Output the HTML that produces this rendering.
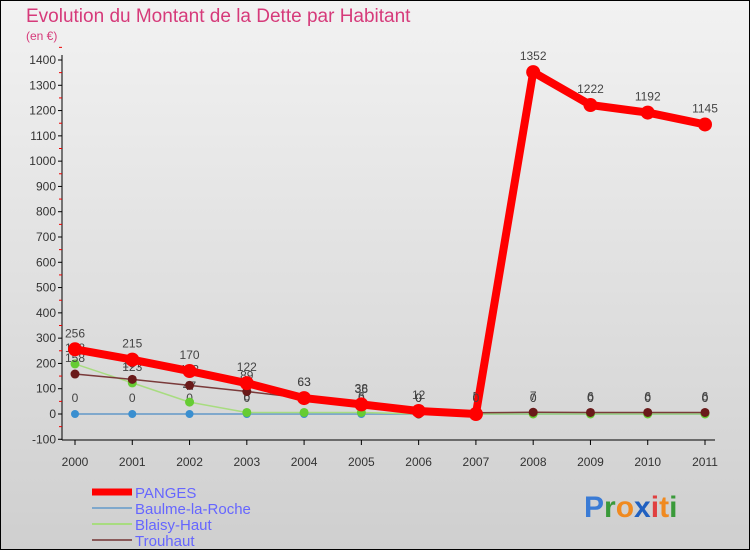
<!DOCTYPE html>
<html><head><meta charset="utf-8"><style>
body{margin:0;width:750px;height:550px;overflow:hidden;font-family:"Liberation Sans",sans-serif}
svg{display:block}
</style></head><body>
<svg id="c" width="750" height="550">
<defs><linearGradient id="bg" x1="0" y1="0" x2="0" y2="1"><stop offset="0" stop-color="#f2f2f2"/><stop offset="1" stop-color="#cfcfcf"/></linearGradient></defs>
<rect width="750" height="550" fill="url(#bg)"/>
<rect x="0.5" y="0.5" width="749" height="549" fill="none" stroke="#000" stroke-width="1"/>
<text x="26" y="22" font-size="19" fill="#d63a7a">Evolution du Montant de la Dette par Habitant</text>
<text x="26" y="40" font-size="12" fill="#d63a7a">(en €)</text>
<g id="axes"></g><g id="series"></g><g id="legend"></g>
<text x="584" y="517" font-size="30" font-weight="bold"><tspan fill="#3a7bd5">P</tspan><tspan fill="#3a9a3a">r</tspan><tspan fill="#f08a20">o</tspan><tspan fill="#2060c0">x</tspan><tspan fill="#e04040">i</tspan><tspan fill="#f08a20">t</tspan><tspan fill="#3a9a3a">i</tspan></text>
</svg>
<script>
const years=[2000,2001,2002,2003,2004,2005,2006,2007,2008,2009,2010,2011];
const yTicks=[-100,0,100,200,300,400,500,600,700,800,900,1000,1100,1200,1300,1400];
const panges=[256,215,170,122,63,38,12,0,1352,1222,1192,1145];
const baulme=[0,0,0,0,0,0,0,0,0,0,0,0];
const blaisy=[198,123,47,6,6,6,0,0,0,0,0,0];
const trouhaut=[158,137,113,89,63,36,0,5,7,6,6,6];
const NS="http://www.w3.org/2000/svg";
const X=i=>75+i*(630/11);
const Y=v=>414-v*(354/1400);
function mk(t,a,p){const e=document.createElementNS(NS,t);for(const k in a)e.setAttribute(k,a[k]);p.appendChild(e);return e;}
const ax=document.getElementById('axes');
mk('line',{x1:62,y1:55,x2:62,y2:440,stroke:'#000'},ax);
mk('line',{x1:62,y1:440,x2:715,y2:440,stroke:'#000'},ax);
yTicks.forEach(v=>{
 mk('line',{x1:58,y1:Y(v),x2:62,y2:Y(v),stroke:'#000'},ax);
 mk('line',{x1:59,y1:Y(v+50),x2:62,y2:Y(v+50),stroke:'#e00'},ax);
 const t=mk('text',{x:56,y:Y(v)+4,'font-size':12,'text-anchor':'end',fill:'#333'},ax);
 t.textContent=v;
 
 
});
years.forEach((yr,i)=>{
 mk('line',{x1:X(i),y1:440,x2:X(i),y2:445,stroke:'#000'},ax);
 const t=mk('text',{x:X(i),y:466,'font-size':12,'text-anchor':'middle',fill:'#333'},ax);
 t.textContent=yr;
 
 
});
const sg=document.getElementById('series');
function draw(vals,color,w,r,name,dot){
 const g=mk('g',{},sg);
 
 
 mk('polyline',{points:vals.map((v,i)=>X(i)+','+Y(v)).join(' '),fill:'none',stroke:color,'stroke-width':w,'stroke-linejoin':'round'},g);
 vals.forEach((v,i)=>{
  const c=mk('circle',{cx:X(i),cy:Y(v),r:r,fill:dot},g);
  
  
  const t=mk('text',{x:X(i),y:Y(v)-12,'font-size':12,'text-anchor':'middle',fill:'#444'},g);
  t.textContent=v;
  
  
 });
}
draw(baulme,'#7fa8cc',2,4,'baulme-la-roche','#3a8fd0');
draw(blaisy,'#a8dc80',1.5,4.5,'blaisy-haut','#66cc33');
draw(trouhaut,'#7a3a3a',1.5,4.5,'trouhaut','#6a1a1a');
draw(panges,'#ff0000',8,7,'panges','#ff0000');
const lg=document.getElementById('legend');
const leg=[['PANGES','#ff0000',7],['Baulme-la-Roche','#7fa8cc',2],['Blaisy-Haut','#a8dc80',2],['Trouhaut','#8a5a5a',2]];
leg.forEach((l,i)=>{
 const y=492+i*16;
 const g=mk('g',{},lg);
 
 
 mk('line',{x1:92,y1:y,x2:132,y2:y,stroke:l[1],'stroke-width':l[2]},g);
 const t=mk('text',{x:135,y:y+6,'font-size':15,fill:'#6666ff'},g);
 t.textContent=l[0];
});
</script>
</body></html>
